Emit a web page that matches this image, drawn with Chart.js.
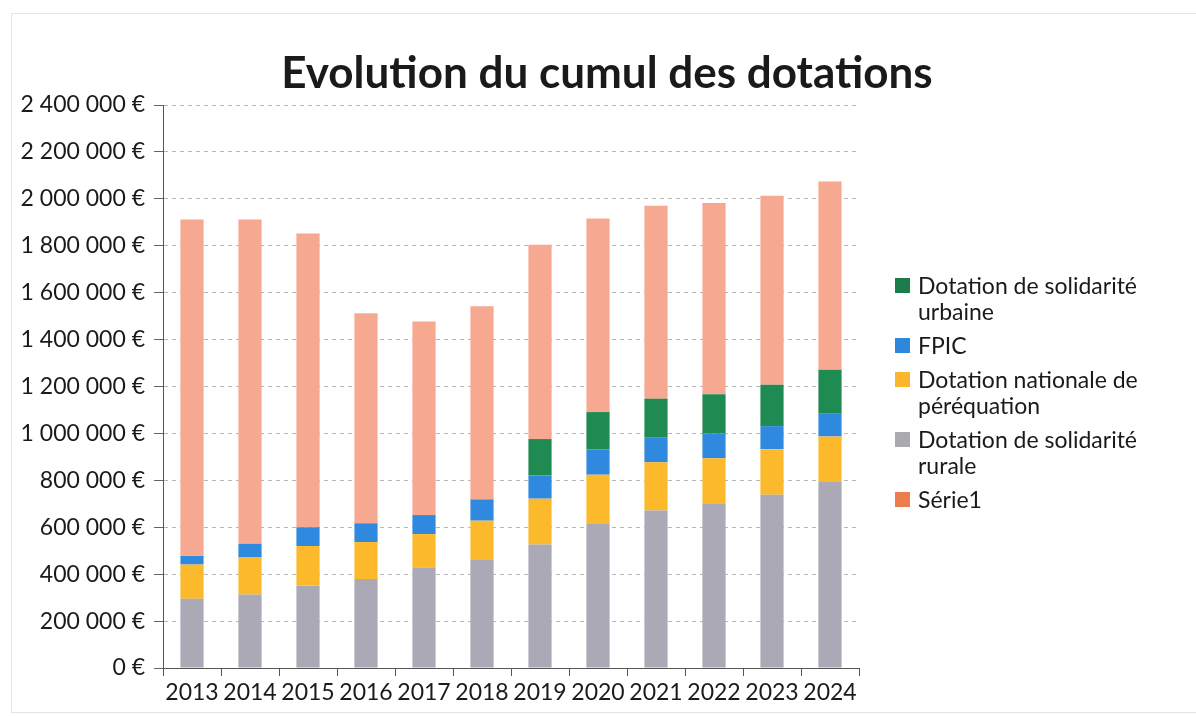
<!DOCTYPE html>
<html>
<head>
<meta charset="utf-8">
<script src="https://cdn.jsdelivr.net/npm/chart.js@4.4.1/dist/chart.umd.min.js"></script>
<style>
  body { margin: 0; background: #fff; width: 1196px; height: 716px; overflow: hidden; font-family: Lato, "Open Sans", sans-serif; color: #1a1a1a; }
  #frame { position: absolute; left: 11px; top: 13px; width: 1200px; height: 698px; border: 1px solid #e4e4e4; }
  #chart-box { position: absolute; left: 0; top: 0; width: 1196px; height: 716px; }
  #title { position: absolute; left: 0; top: 45px; width: 1214px; text-align: center; font-weight: bold; font-size: 44px; line-height: 52px; }
  #legend-wrapper { position: absolute; left: 895px; top: 272px; width: 290px; font-size: 23px; line-height: 26px; }
  .legend-item { display: flex; align-items: flex-start; margin-bottom: 8px; }
  .legend-color { width: 15px; height: 15px; margin-top: 6px; margin-right: 8px; flex: none; }
  .legend-text { width: 250px; }
</style>
</head>
<body>
<div id="frame"></div>
<div id="chart-box"><canvas id="chart" width="1196" height="716"></canvas></div>
<div id="title">Evolution du cumul des dotations</div>
<div id="legend-wrapper"></div>
<script>
// values, in euros
const years = ['2013', '2014', '2015', '2016', '2017', '2018', '2019', '2020', '2021', '2022', '2023', '2024'];
const dsr = [295000, 313000, 351000, 379000, 428000, 464000, 526000, 614000, 671000, 702000, 739000, 793000];
const dnp = [146000, 158000, 169000, 158000, 143000, 164000, 196000, 210000, 206000, 192000, 194000, 194000];
const fpic = [37000, 58000, 80000, 80000, 81000, 91000, 99000, 107000, 107000, 105000, 98000, 97000];
const dsu = [0, 0, 0, 0, 0, 0, 155000, 160000, 164000, 168000, 176000, 187000];
const serie1 = [1434000, 1383000, 1252000, 895000, 825000, 823000, 828000, 825000, 822000, 815000, 806000, 803000];

const fontColor = '#1a1a1a';

// bottom to top in the stack
const datasets = [
    { label: 'Dotation de solidarité rurale', data: dsr, backgroundColor: '#aca9b6', legendColor: '#aaa8b0' },
    { label: 'Dotation nationale de péréquation', data: dnp, backgroundColor: '#fcb92c', legendColor: '#fbb52e' },
    { label: 'FPIC', data: fpic, backgroundColor: '#2f89de', legendColor: '#2f86da' },
    { label: 'Dotation de solidarité urbaine', data: dsu, backgroundColor: '#1f8a52', legendColor: '#1c7c4a' },
    { label: 'Série1', data: serie1, backgroundColor: '#f7a891', legendColor: '#ed7d4c' }
];
const legendOrder = [3, 2, 1, 0, 4];

const euro = v => String(v).replace(/\B(?=(\d{3})+(?!\d))/g, ' ') + ' €';

const ctx = document.getElementById('chart');

const myChart = new Chart(ctx, {
    type: 'bar',
    data: {
        labels: years,
        datasets: datasets.map(d => ({
            label: d.label,
            data: d.data,
            backgroundColor: d.backgroundColor,
            borderWidth: 0,
            categoryPercentage: 1,
            barPercentage: 0.4
        }))
    },
    options: {
        responsive: false,
        animation: false,
        layout: { padding: { left: 0, top: 105, right: 337, bottom: 0 } },
        plugins: {
            legend: { display: false },
            title: { display: false },
            tooltip: { enabled: false }
        },
        scales: {
            x: {
                stacked: true,
                afterFit: scale => { scale.height = 48; },
                grid: {
                    drawOnChartArea: false,
                    tickLength: 8,
                    tickColor: '#555'
                },
                border: { display: true, color: '#555', width: 1 },
                ticks: {
                    color: fontColor,
                    padding: 3,
                    autoSkip: false,
                    maxRotation: 0,
                    minRotation: 0,
                    font: { family: 'Lato', size: 23 }
                }
            },
            y: {
                stacked: true,
                min: 0,
                max: 2400000,
                afterFit: scale => { scale.width = 163; },
                grid: {
                    color: '#b8b8b8',
                    tickLength: 9,
                    tickColor: '#666',
                    tickBorderDash: []
                },
                border: { display: true, color: '#555', width: 1, dash: [4, 4] },
                ticks: {
                    stepSize: 200000,
                    color: fontColor,
                    padding: 9,
                    font: { family: 'Lato', size: 23 },
                    callback: v => euro(v)
                }
            }
        }
    }
});

// legend on the right, as in the picture
const legendContainer = document.getElementById('legend-wrapper');
legendOrder.forEach(i => {
    const item = document.createElement('div');
    item.classList.add('legend-item');

    const colorIndicator = document.createElement('div');
    colorIndicator.classList.add('legend-color');
    colorIndicator.style.backgroundColor = datasets[i].legendColor;

    const textBlock = document.createElement('span');
    textBlock.classList.add('legend-text');
    textBlock.textContent = datasets[i].label;

    item.appendChild(colorIndicator);
    item.appendChild(textBlock);
    legendContainer.appendChild(item);
});
</script>
</body>
</html>
